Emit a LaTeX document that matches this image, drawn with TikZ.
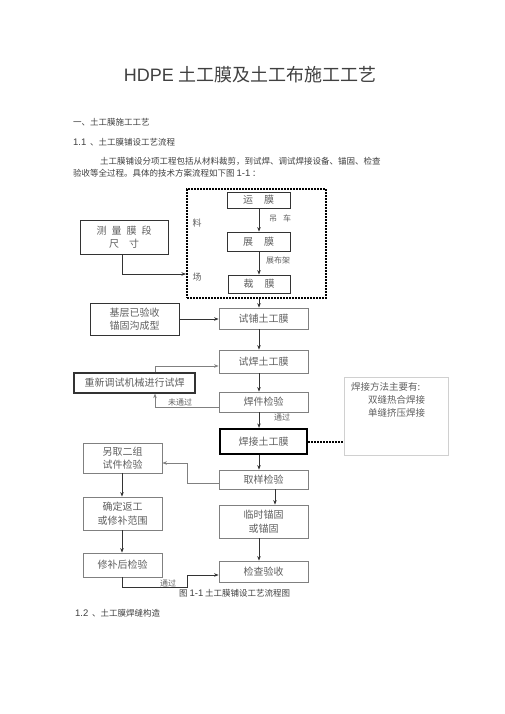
\documentclass[tikz,border=0pt]{standalone}
\usepackage{fontspec}
\setmainfont{Noto Sans CJK SC}
\newfontfamily\lat{Liberation Sans}
\usetikzlibrary{arrows.meta,calc}
\definecolor{txt}{HTML}{404040}
\definecolor{btxt}{HTML}{606060}
\definecolor{dline}{HTML}{333333}
\definecolor{lline}{HTML}{808080}
\definecolor{vline}{HTML}{D0D0D0}
\tikzset{
  box/.style={draw=dline, line width=0.8pt, inner sep=0pt, align=center, text=btxt,
    font=\fontsize{10}{13.5}\selectfont},
  lbox/.style={box, draw=lline},
  txtnode/.style={inner sep=0pt, anchor=west, text=txt},
  lbl/.style={inner sep=0pt, text=btxt, font=\fontsize{8}{10}\selectfont},
  arr/.style={draw=dline, line width=0.9pt, -{Stealth[length=4.5pt,width=3.5pt]}},
  garr/.style={draw=lline, line width=0.8pt, -{Stealth[length=4.5pt,width=3.5pt]}},
  dotline/.style={draw=black, line width=2pt, dash pattern=on 1.6pt off 1.4pt}
}
\begin{document}
\begin{tikzpicture}[x=1pt,y=-1pt]
\useasboundingbox[fill=white] (0,0) rectangle (505,714);

% header texts
\node[inner sep=0pt, text=txt] (title) at (250,75) {\fontsize{18}{20}\selectfont{\lat HDPE} 土工膜及土工布施工工艺};
\node[txtnode, font=\fontsize{8.5}{10}\selectfont] (h1) at (73,122) {一、土工膜施工工艺};
\node[txtnode, font=\fontsize{8.5}{10}\selectfont] (h2) at (73,142) {{\lat\fontsize{9.5}{10}\selectfont 1.1}\ \ 、土工膜铺设工艺流程};
\node[txtnode, font=\fontsize{8.5}{10}\selectfont] (p1) at (100,161) {土工膜铺设分项工程包括从材料裁剪，到试焊、调试焊接设备、锚固、检查};
\node[txtnode, font=\fontsize{8.5}{10}\selectfont] (p2) at (73,173) {验收等全过程。具体的技术方案流程如下图 {\lat\fontsize{9.5}{10}\selectfont 1-1} ：};

% dotted field box
\node[dotline, inner sep=0pt, minimum width=139pt, minimum height=109pt] (field) at (256.5,243.5) {};
\node[lbl, font=\fontsize{9}{10}\selectfont] (liao) at (197,223) {料};
\node[lbl, font=\fontsize{9}{10}\selectfont] (chang) at (197,277) {场};

% boxes
\node[box, minimum width=63pt, minimum height=16pt] (yun) at (258.5,200) {运\hspace{11pt}膜};
\node[box, minimum width=63pt, minimum height=19pt] (zhan) at (258.5,241.5) {展\hspace{11pt}膜};
\node[box, minimum width=62pt, minimum height=18pt] (cai) at (259,284) {裁\hspace{11pt}膜};
\node[box, minimum width=88pt, minimum height=34pt] (celiang) at (124,237) {测\hspace{5pt}量\hspace{5pt}膜\hspace{5pt}段\\尺\hspace{10pt}寸};
\node[box, minimum width=89pt, minimum height=32pt] (jiceng) at (134.5,319) {基层已验收\\锚固沟成型};
\node[lbox, minimum width=89pt, minimum height=21pt] (shipu) at (263.5,318.5) {试铺土工膜};
\node[lbox, minimum width=89pt, minimum height=23pt] (shihan) at (263.5,361.5) {试焊土工膜};
\node[box, line width=1.2pt, minimum width=121pt, minimum height=20pt] (chongxin) at (134.5,383) {重新调试机械进行试焊};
\node[lbox, minimum width=89pt, minimum height=20pt] (hanjian) at (263.5,402) {焊件检验};
\node[box, draw=black, line width=2.2pt, minimum width=87pt, minimum height=25pt] (hanjie) at (263.5,441.5) {焊接土工膜};
\node[lbox, minimum width=89pt, minimum height=19pt] (quyang) at (263.5,479.5) {取样检验};
\node[lbox, minimum width=79pt, minimum height=30pt] (lingqu) at (122.5,458) {另取二组\\试件检验};
\node[lbox, minimum width=79pt, minimum height=33pt] (queding) at (122.5,513.5) {确定返工\\或修补范围};
\node[lbox, minimum width=79pt, minimum height=24pt] (xiubu) at (122.5,565) {修补后检验};
\node[lbox, minimum width=89pt, minimum height=33pt] (linshi) at (263.5,521.5) {临时锚固\\或锚固};
\node[lbox, minimum width=89pt, minimum height=21pt] (jiancha) at (263.5,571.5) {检查验收};
\node[draw=vline, line width=0.6pt, minimum width=104pt, minimum height=78pt, inner sep=0pt] (method) at (396,416) {};
\node[lbl, anchor=west, font=\fontsize{9.5}{11}\selectfont] (m1) at (351,387) {焊接方法主要有:};
\node[lbl, anchor=west, font=\fontsize{9.5}{11}\selectfont] (m2) at (368,400) {双缝热合焊接};
\node[lbl, anchor=west, font=\fontsize{9.5}{11}\selectfont] (m3) at (368,413) {单缝挤压焊接};

% column coordinates
\coordinate (col) at (259,0);
\coordinate (colb) at (275,0);
\coordinate (lcol) at (122,0);

% main vertical arrows
\draw[arr] (yun.south -| col) -- (zhan.north -| col);
\node[lbl] (diaoche) at (280,218) {吊\hspace{6pt}车};
\draw[arr] (zhan.south -| col) -- (cai.north -| col);
\node[lbl] (zhanbujia) at (278,260) {展布架};
\draw[arr] (field.south -| col) -- (shipu.north -| col);
\draw[arr] (jiceng.east) -- (shipu.west |- jiceng.east);
\draw[arr] (shipu.south -| col) -- (shihan.north -| col);
\draw[arr] (shihan.south -| col) -- (hanjian.north -| col);
\draw[arr] (hanjian.south -| col) -- (hanjie.north -| col);
\node[lbl] (tongguo1) at (282,417) {通过};
\draw[arr] (hanjie.south -| col) -- (quyang.north -| col);
\draw[arr] (quyang.south -| colb) -- (linshi.north -| colb);
\draw[arr] (linshi.south -| col) -- (jiancha.north -| col);

% measure to field
\coordinate (c1) at (122,274);
\draw[arr] (celiang.south -| c1) -- (c1) -- (field.west |- c1);

% retry loop
\coordinate (c2) at (155,407);
\coordinate (c3) at (155,366);
\draw[garr] (hanjian.west |- c2) -- (c2) -- (chongxin.south -| c2);
\node[lbl] (weitongguo) at (180,402) {未通过};
\draw[garr] (chongxin.north -| c3) -- (c3) -- (shihan.west |- c3);

% sample loop
\coordinate (c4) at (187,483);
\coordinate (c5) at (187,463);
\draw[garr] (quyang.west |- c4) -- (c4) -- (c5) -- (lingqu.east |- c5);
\draw[arr] (lingqu.south -| lcol) -- (queding.north -| lcol);
\draw[arr] (queding.south -| lcol) -- (xiubu.north -| lcol);
\coordinate (c6) at (122,587);
\coordinate (c7) at (187,587);
\coordinate (c8) at (187,575);
\draw[arr, line width=0.8pt] (xiubu.south -| c6) -- (c6) -- (c7) -- (c8) -- (jiancha.west |- c8);
\node[lbl] (tongguo2) at (168,583) {通过};

% dotted link to method box
\draw[dotline] (hanjie.east) -- (method.west |- hanjie.east);

% caption and following heading
\node[txtnode, font=\fontsize{8.5}{10}\selectfont] (cap) at (179,593) {图 {\lat\fontsize{9.5}{10}\selectfont 1-1} 土工膜铺设工艺流程图};
\node[txtnode, font=\fontsize{8.5}{10}\selectfont] (h3) at (75,613) {{\lat\fontsize{9.5}{10}\selectfont 1.2}\ \ 、土工膜焊缝构造};
\end{tikzpicture}
\end{document}
